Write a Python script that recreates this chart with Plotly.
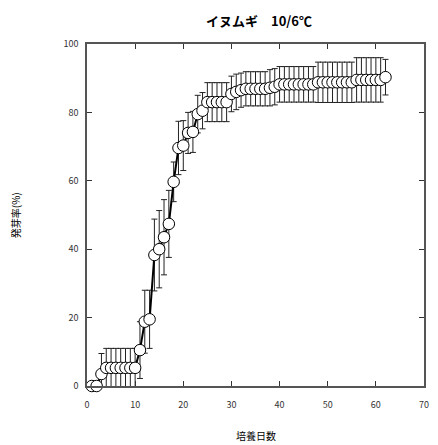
import plotly.graph_objects as go

# Data: day, mean germination (%), error (SD)
days = list(range(1, 63))
values = [
    0, 0, 3.5, 5.3, 5.3, 5.3, 5.3, 5.3, 5.3, 5.3,          # 1-10
    10.5, 18.8, 19.5, 38.3, 40.0, 43.5, 47.4, 59.7, 69.6, 70.3,  # 11-20
    74.0, 74.3, 79.5, 80.5, 83.0, 83.0, 83.0, 83.0, 83.0, 85.4,  # 21-30
    86.0, 86.5, 86.9, 86.9, 86.9, 86.9, 86.9, 87.2, 87.5, 88.2,  # 31-40
    88.2, 88.2, 88.2, 88.2, 88.2, 88.2, 88.2, 88.8, 88.8, 88.8,  # 41-50
    88.8, 88.8, 88.8, 88.8, 88.8, 89.5, 89.5, 89.5, 89.5, 89.5,  # 51-60
    89.5, 90.3,                                                  # 61-62
]
errors = [
    0, 0, 6.0, 5.7, 5.7, 5.7, 5.7, 5.7, 5.7, 5.7,
    8.3, 9.2, 8.5, 10.5, 11.3, 11.0, 9.8, 5.8, 7.8, 7.3,
    6.0, 6.0, 5.5, 5.3, 5.7, 5.7, 5.7, 5.7, 5.7, 5.2,
    5.2, 5.0, 5.0, 5.0, 5.0, 5.0, 5.0, 5.3, 5.3, 5.2,
    5.2, 5.2, 5.2, 5.2, 5.2, 5.2, 5.2, 5.9, 5.9, 5.9,
    5.9, 5.9, 5.9, 5.9, 5.9, 6.5, 6.5, 6.5, 6.5, 6.5,
    6.5, 5.2,
]
x_ticks = [0, 10, 20, 30, 40, 50, 60, 70]
y_ticks = [0, 20, 40, 60, 80, 100]

title_text = "イヌムギ　10/6℃"
x_title = "培養日数"
y_title = "発芽率(%)"

FONT = "Noto Sans CJK JP"

fig = go.Figure()
fig.add_trace(go.Scatter(
    x=days, y=values,
    mode="lines+markers",
    line=dict(color="black", width=2),
    marker=dict(symbol="circle", size=11.5, color="white",
                line=dict(color="black", width=1)),
    error_y=dict(type="data", array=errors, visible=True,
                 color="#222222", thickness=1, width=3),
    cliponaxis=False,
    showlegend=False,
))

axis_common = dict(
    showgrid=False, zeroline=False,
    showline=True, linecolor="#555555", linewidth=1.5,
    mirror="ticks", ticks="inside", ticklen=5, tickwidth=1, tickcolor="#333333",
    tickfont=dict(family=FONT, size=9, color="#333333"),
)

fig.update_xaxes(range=[0, 70], tickvals=x_ticks, ticktext=[str(t) for t in x_ticks],
                 ticklabelstandoff=9, **axis_common)
fig.update_yaxes(range=[0, 100], tickvals=y_ticks, ticktext=[str(t) for t in y_ticks],
                 ticklabelstandoff=5, **axis_common)

fig.update_layout(
    width=438, height=445,
    margin=dict(l=87, r=9, t=44, b=59),
    paper_bgcolor="white", plot_bgcolor="white",
    font=dict(family=FONT, color="black"),
    annotations=[
        dict(text="<b>" + title_text + "</b>", x=0.51, y=1.07, xref="paper", yref="paper",
             showarrow=False, xanchor="center", yanchor="middle",
             font=dict(family=FONT, size=13, color="black")),
        dict(text=x_title, x=0.5, y=-0.146, xref="paper", yref="paper",
             showarrow=False, xanchor="center", yanchor="middle",
             font=dict(family=FONT, size=10, color="black")),
        dict(text=y_title, x=-0.213, y=0.5, xref="paper", yref="paper",
             showarrow=False, xanchor="center", yanchor="middle", textangle=-90,
             font=dict(family=FONT, size=10, color="black")),
    ],
)

fig.write_html("out.html")
